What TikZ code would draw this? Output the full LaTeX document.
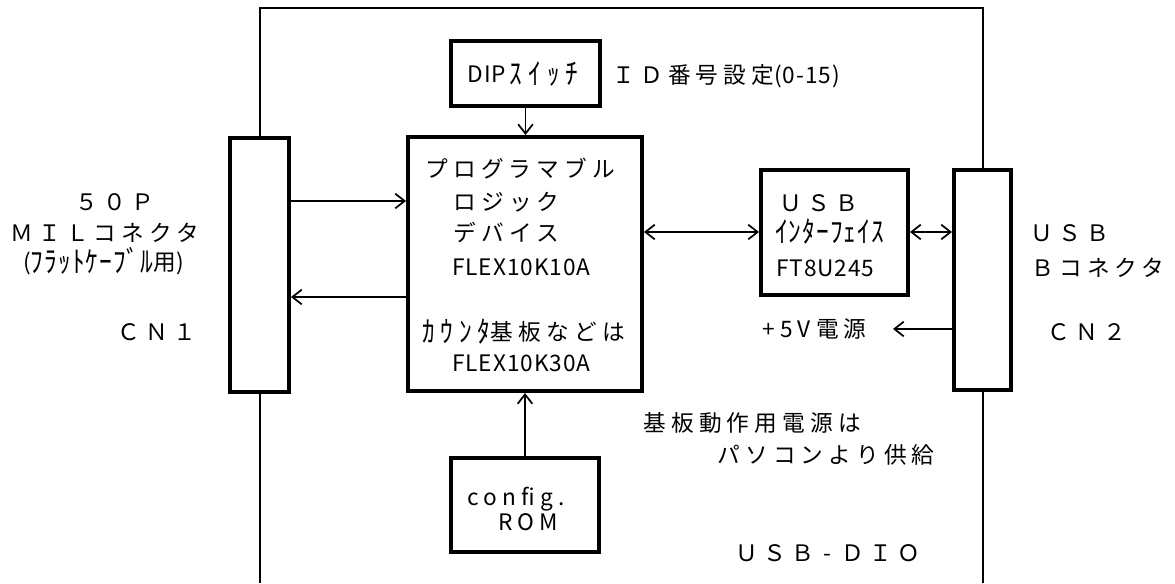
\documentclass[tikz,border=0pt]{standalone}
\usepackage{fontspec}
\usepackage{graphicx}
\newfontfamily\jpw{Noto Sans CJK JP}[LetterSpace=23]
\newfontfamily\jpn{Noto Sans CJK JP}[LetterSpace=4]
\newcommand{\hkana}[1]{\raisebox{-0.06em}{\scalebox{1.12}[1.3]{#1}}}
\usetikzlibrary{arrows.meta,fit}
\begin{document}
\begin{tikzpicture}[x=0.75pt,y=-0.75pt,
  box/.style={draw, line width=3pt, fill=white, inner sep=0pt},
  frame/.style={line width=1.5pt},
  barb/.tip={Straight Barb[length=7pt,width=11pt,line width=1.3pt]},
  arr/.style={line width=1.3pt, -barb},
  darr/.style={line width=1.3pt, barb-barb},
  lbl/.style={anchor=west, inner sep=0pt, font=\jpw\fontsize{17pt}{20pt}\selectfont, text height=15pt, text depth=2pt},
  lbln/.style={lbl, font=\jpn\fontsize{17pt}{20pt}\selectfont}
]
\useasboundingbox (0,0) rectangle (1175,583);
% outer frame
\draw[frame] (260,583) -- (260,8) -- (983,8) -- (983,583);
% boxes
\node[box, fit={(230,138) (289,392)}] (CN1) {};
\node[box, fit={(451,41) (600,106)}] (DIP) {};
\node[box, fit={(408,137) (642,391)}] (PLD) {};
\node[box, fit={(761,170) (908,295)}] (USB) {};
\node[box, fit={(954,170) (1011,390)}] (CN2) {};
\node[box, fit={(451,458) (599,552)}] (ROM) {};
% helper coordinates
\coordinate (y201) at (0,201);
\coordinate (y297) at (0,297);
\coordinate (y232) at (0,232);
\coordinate (y329) at (0,329);
\coordinate (p5) at (893,329);
% connectors
\draw[arr] (DIP.south) -- (DIP.south |- PLD.north);
\draw[arr] (CN1.east |- y201) -- (PLD.west |- y201);
\draw[arr] (PLD.west |- y297) -- (CN1.east |- y297);
\draw[darr] (PLD.east |- y232) -- (USB.west |- y232);
\draw[darr] (USB.east |- y232) -- (CN2.west |- y232);
\draw[arr] (CN2.west |- y329) -- (p5);
\draw[arr] (ROM.north) -- (ROM.north |- PLD.south);
% left labels
\node[lbl] (t50p) at (75,202) {５０Ｐ};
\node[lbl] (tmil) at (10,233) {ＭＩＬコネクタ};
\node[lbln] (tflat) at (23,262) {(\hkana{ﾌﾗｯﾄｹｰﾌﾞﾙ}用)};
\node[lbl] (tcn1) at (117,332) {ＣＮ１};
% DIP
\node[lbln, anchor=center] (tdip) at (523,74) {DIP\,{\jpw\hkana{ｽｲｯﾁ}}};
\node[lbl] (tid) at (612,75) {ＩＤ番号設定{\jpn\fontsize{17pt}{20pt}\selectfont (0-15)}};
% PLD
\node[lbl] (tp1) at (425,169) {プログラマブル};
\node[lbl] (tp2) at (453,202) {ロジック};
\node[lbl] (tp3) at (453,233) {デバイス};
\node[lbln] (tp4) at (452,267) {FLEX10K10A};
\node[lbl] (tp5) at (422,332) {\hkana{ｶｳﾝﾀ}基板などは};
\node[lbln] (tp6) at (452,363) {FLEX10K30A};
% USB interface
\node[lbl] (tu1) at (779,203) {ＵＳＢ};
\node[lbln] (tu2) at (775,232) {\hkana{ｲﾝﾀｰﾌｪｲｽ}};
\node[lbln] (tu3) at (776,268) {FT8U245};
% right labels
\node[lbl] (tr1) at (1030,233) {ＵＳＢ};
\node[lbl] (tr2) at (1031,268) {Ｂコネクタ};
\node[lbl] (tr3) at (1047,332) {ＣＮ２};
\node[lbl] (t5v) at (762,329) {+5V電源};
% power note
\node[lbl] (tn1) at (643,423) {基板動作用電源は};
\node[lbl] (tn2) at (717,455) {パソコンより供給};
% ROM
\node[lbl] (tc1) at (467,497) {config.};
\node[lbl] (tc2) at (498,522) {ROM};
% title
\node[lbl] (ttitle) at (735,553) {ＵＳＢ\hbox to 1.23em{\hss-\hss}ＤＩＯ};
\end{tikzpicture}
\end{document}
